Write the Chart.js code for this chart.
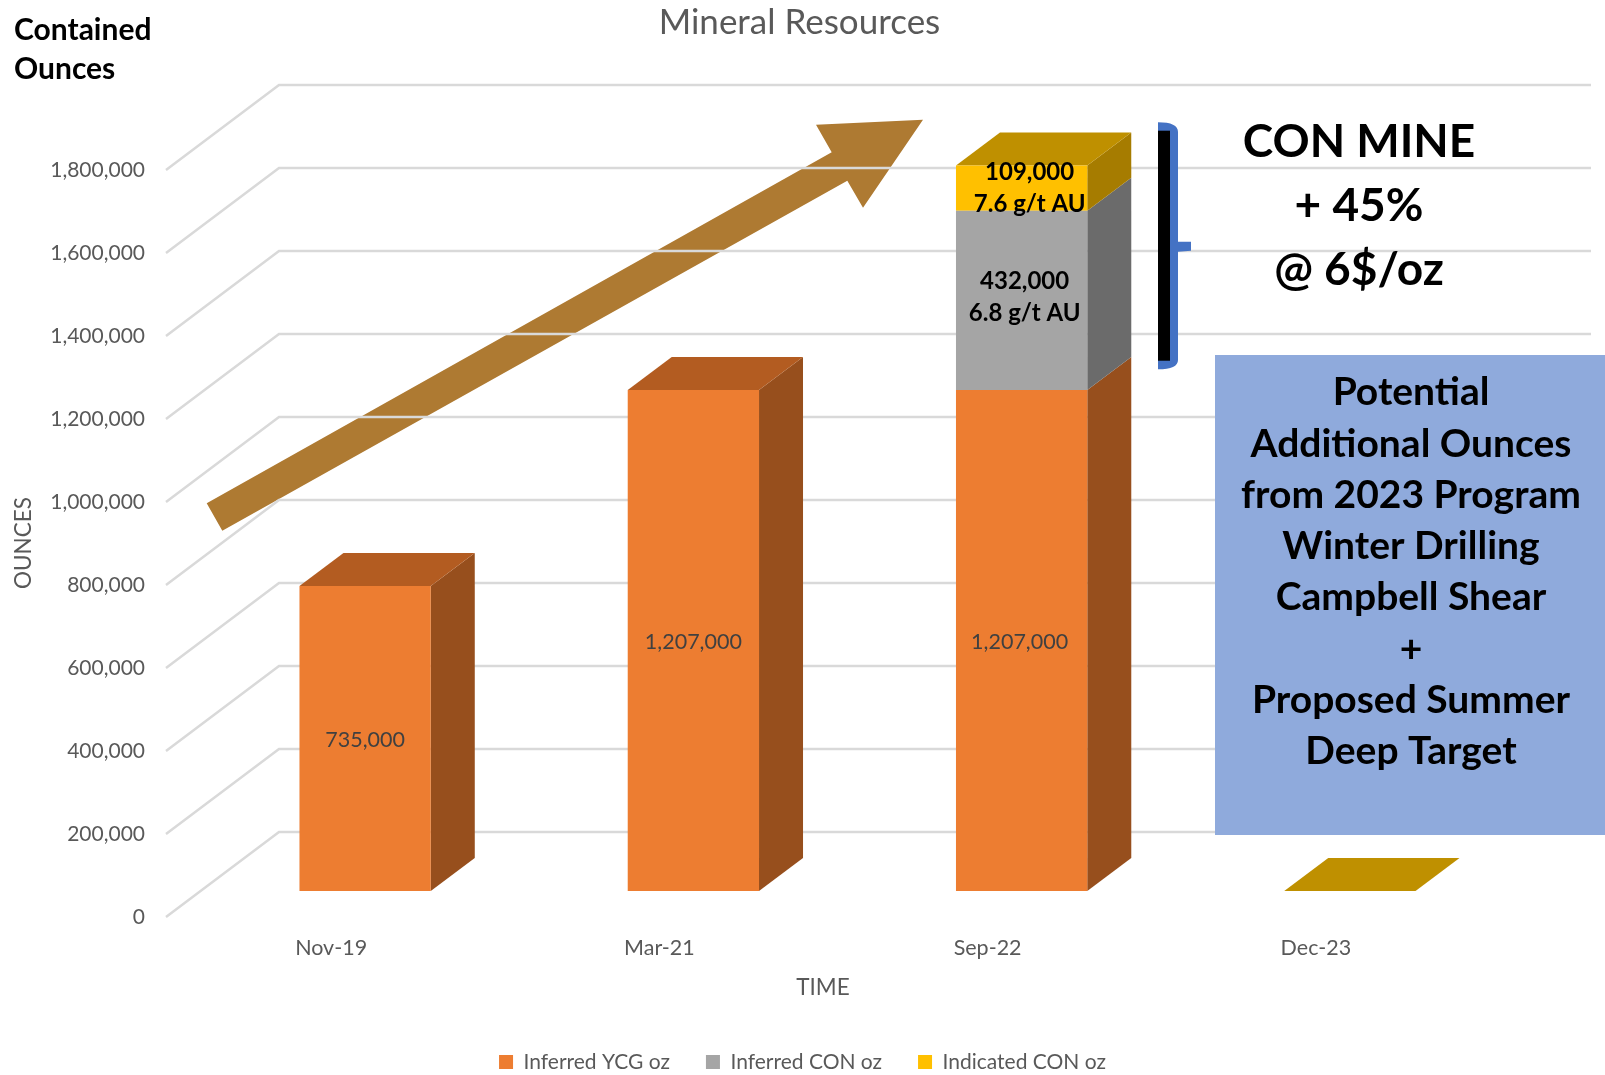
<!DOCTYPE html>
<html>
<head>
<meta charset="utf-8">
<title>Mineral Resources</title>
<style>
    html, body { margin: 0; padding: 0; background: #fff; overflow: hidden; }
    canvas { display: block; }
</style>
<script src="https://cdn.jsdelivr.net/npm/chart.js@4"></script>
</head>
<body>
<canvas id="resourceChart" width="1605" height="1075"></canvas>
<script>
const categories = ['Nov-19', 'Mar-21', 'Sep-22', 'Dec-23'];
const inferredYcg = [735000, 1207000, 1207000, null];
const inferredCon = [null, null, 432000, null];
const indicatedCon = [null, null, 109000, 0];
const inferredConNotes = [null, null, '6.8 g/t AU', null];
const indicatedConNotes = [null, null, '7.6 g/t AU', null];
const conMineLines = ['CON MINE', '+ 45%', '@ 6$/oz'];
const potentialLines = ['Potential', 'Additional Ounces', 'from 2023 Program', 'Winter Drilling',
    'Campbell Shear', '+', 'Proposed Summer', 'Deep Target'];

const GREY_TEXT = '#595959';
const DEPTH_X = 44; // 3D bar depth
const DEPTH_Y = 33;
const LEGEND_GAP = 36;

const sideColors = ['#974F1D', '#6B6B6B', '#A67C00'];
const topColors = ['#B35C21', '#7C7C7C', '#BF9000'];

function fmt(v) {
    return v.toLocaleString('en-US');
}

function poly(ctx, pts, color) {
    ctx.fillStyle = color;
    ctx.beginPath();
    pts.forEach((p, i) => i ? ctx.lineTo(p[0], p[1]) : ctx.moveTo(p[0], p[1]));
    ctx.closePath();
    ctx.fill();
}

function text(ctx, str, x, y, font, color, align) {
    ctx.font = font;
    ctx.fillStyle = color;
    ctx.textAlign = align || 'center';
    ctx.textBaseline = 'middle';
    ctx.fillText(str, x, y);
}

// Background: arrow, then the walls and floor lines of the 3D plot
function drawBackdrop(chart) {
    const ctx = chart.ctx;
    const y = chart.scales.y;
    poly(ctx, [[206.7, 503.3], [831.7, 152.3], [816, 124.7], [923, 119.7], [863, 207.7], [847.3, 180.7], [222.3, 530.7]], '#AE7A32');

    ctx.strokeStyle = '#D9D9D9';
    ctx.lineWidth = 2.5;
    y.ticks.forEach(t => {
        const p = y.getPixelForValue(t.value);
        ctx.beginPath();
        ctx.moveTo(166, p + 26);
        ctx.lineTo(279, p - 59);
        ctx.lineTo(1591, p - 59);
        ctx.stroke();
    });
}

// Side and top faces of the bars, front faces come from the bar elements
function drawBarDepth(chart) {
    const ctx = chart.ctx;
    categories.forEach((c, j) => {
        let last = null;
        chart.data.datasets.forEach((ds, i) => {
            if (ds.data[j] === null) return;
            const bar = chart.getDatasetMeta(i).data[j];
            const right = bar.x + bar.width / 2;
            poly(ctx, [[right, bar.y], [right + DEPTH_X, bar.y - DEPTH_Y], [right + DEPTH_X, bar.base - DEPTH_Y], [right, bar.base]], sideColors[i]);
            last = { bar, i };
        });
        if (!last) return;
        const b = last.bar;
        const l = b.x - b.width / 2;
        const r = b.x + b.width / 2;
        poly(ctx, [[l, b.y], [l + DEPTH_X, b.y - DEPTH_Y], [r + DEPTH_X, b.y - DEPTH_Y], [r, b.y]], topColors[last.i]);
    });
}

function drawBarLabels(chart) {
    const ctx = chart.ctx;
    const ycg = chart.getDatasetMeta(0).data;
    const con = chart.getDatasetMeta(1).data;
    const ind = chart.getDatasetMeta(2).data;
    const bold = 'bold 24px Lato';
    categories.forEach((c, j) => {
        if (inferredYcg[j] !== null) {
            text(ctx, fmt(inferredYcg[j]), ycg[j].x - (j === 2 ? 2 : 0), (ycg[j].y + ycg[j].base) / 2 + 2, '21.5px Lato', '#404040');
        }
        if (inferredCon[j] !== null) {
            const mid = (con[j].y + con[j].base) / 2;
            text(ctx, fmt(inferredCon[j]), con[j].x + 3, mid - 19, bold, '#000');
            text(ctx, inferredConNotes[j], con[j].x + 3, mid + 13, bold, '#000');
        }
        if (indicatedCon[j]) {
            const mid = (ind[j].y + ind[j].base) / 2;
            text(ctx, fmt(indicatedCon[j]), ind[j].x + 8, mid - 16, bold, '#000');
            text(ctx, indicatedConNotes[j], ind[j].x + 8, mid + 16, bold, '#000');
        }
    });
}

function drawCallouts(chart) {
    const ctx = chart.ctx;

    // axis titles sit off centre because of the 3D floor
    text(ctx, 'TIME', 823, 988, '22.5px Lato', GREY_TEXT);
    ctx.save();
    ctx.translate(24, 543);
    ctx.rotate(-Math.PI / 2);
    text(ctx, 'OUNCES', 0, 0, '22.5px Lato', GREY_TEXT);
    ctx.restore();

    text(ctx, 'Contained', 14, 30, 'bold 30px Lato', '#000', 'left');
    text(ctx, 'Ounces', 14, 69, 'bold 30px Lato', '#000', 'left');

    // brace
    ctx.fillStyle = '#4472C4';
    ctx.beginPath();
    ctx.moveTo(1158, 122.3);
    ctx.quadraticCurveTo(1178, 122.3, 1178, 132);
    ctx.lineTo(1178, 241.7);
    ctx.lineTo(1191, 241.7);
    ctx.lineTo(1191, 250.7);
    ctx.lineTo(1178, 251.7);
    ctx.lineTo(1178, 360);
    ctx.quadraticCurveTo(1178, 369.3, 1158, 369.3);
    ctx.closePath();
    ctx.fill();
    ctx.fillStyle = '#000';
    ctx.fillRect(1158, 130.7, 12, 230);

    const conY = [142, 206, 270];
    conMineLines.forEach((line, i) => text(ctx, line, 1359, conY[i], 'bold 46px Lato', '#000'));

    ctx.fillStyle = '#8FAADC';
    ctx.fillRect(1215, 355, 390, 480);
    const boxY = [392, 444, 495, 546, 597, 649, 700, 751];
    potentialLines.forEach((line, i) => text(ctx, line, 1411, boxY[i], 'bold 39px Lato', '#000'));
}

Chart.defaults.font.family = 'Lato';
Chart.defaults.color = GREY_TEXT;

new Chart(document.getElementById('resourceChart'), {
    type: 'bar',
    data: {
        labels: categories,
        datasets: [
            { label: 'Inferred YCG oz', data: inferredYcg, backgroundColor: '#ED7D31' },
            { label: 'Inferred CON oz', data: inferredCon, backgroundColor: '#A5A5A5' },
            { label: 'Indicated CON oz', data: indicatedCon, backgroundColor: '#FFC000' }
        ]
    },
    options: {
        responsive: false,
        animation: false,
        datasets: { bar: { barPercentage: 0.4, categoryPercentage: 1 } },
        layout: { padding: 0 },
        plugins: {
            title: {
                display: true,
                text: 'Mineral Resources',
                color: GREY_TEXT,
                font: { size: 35, weight: 'normal' },
                padding: { top: 2, bottom: 100 }
            },
            legend: {
                position: 'bottom',
                labels: { boxWidth: 14, boxHeight: 14, font: { size: 21 }, padding: LEGEND_GAP, color: GREY_TEXT }
            },
            tooltip: { enabled: false }
        },
        scales: {
            x: {
                stacked: true,
                grid: { display: false },
                border: { display: false },
                ticks: { font: { size: 21.5 }, padding: 36, labelOffset: -34, maxRotation: 0, autoSkip: false },
                afterFit(s) { s.height = 117; }
            },
            y: {
                stacked: true,
                min: 0,
                max: 1800000,
                grid: { display: false },
                border: { display: false },
                ticks: { stepSize: 200000, font: { size: 21 }, padding: 48, labelOffset: 26, callback: fmt },
                afterFit(s) { s.width = 201; }
            },
            // keeps the plot clear of the right edge without moving title and legend
            spacer: {
                position: 'right',
                grid: { display: false },
                border: { display: false },
                ticks: { display: false },
                afterFit(s) { s.width = 91; }
            }
        }
    },
    plugins: [{
        id: 'depth3d',
        beforeDraw(chart) {
            // legend padding also sets the item gap, so pull the row down to the page edge
            chart.legend.top = 1051.4 - LEGEND_GAP;
            chart.titleBlock.left = -6;
        },
        beforeDatasetsDraw(chart) {
            drawBackdrop(chart);
            drawBarDepth(chart);
        },
        afterDatasetsDraw(chart) {
            drawBarLabels(chart);
            drawCallouts(chart);
        }
    }]
});
</script>
</body>
</html>
